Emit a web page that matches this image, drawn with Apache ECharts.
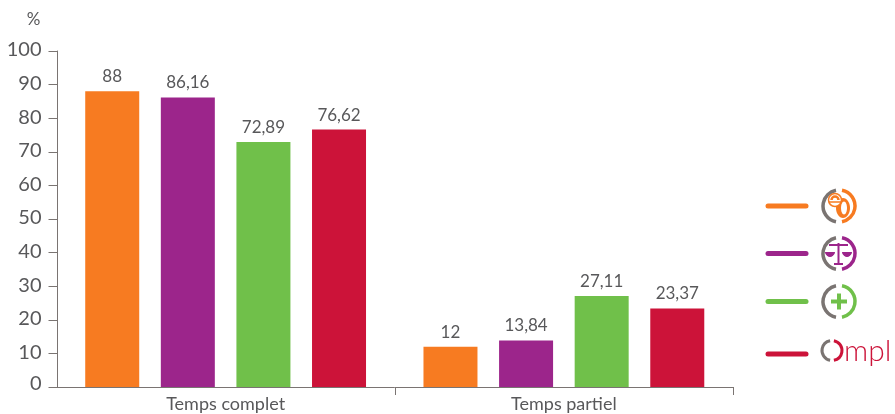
<!DOCTYPE html>
<html>
<head>
<meta charset="utf-8">
<title>Temps complet / Temps partiel</title>
<script src="https://cdn.jsdelivr.net/npm/echarts@6/dist/echarts.min.js"></script>
<style>
html, body { margin: 0; padding: 0; background: #fff; }
#chart { width: 895px; height: 414px; }
</style>
</head>
<body>
<div id="chart"></div>
<script>
var categories = ['Temps complet', 'Temps partiel'];
var yTicks = [0, 100, 10];
var seriesNames = ['BTP', 'Juridique', 'Plus', 'Ompl'];
var seriesColors = ['#f77b21', '#9c258b', '#70c04a', '#cc1339'];
var btp = [88, 12];
var juridique = [86.16, 13.84];
var plus = [72.89, 27.11];
var ompl = [76.62, 23.37];

var grey = '#7a7472';
var textColor = '#58585a';
var fontName = 'Lato';

function frNumber(v) {
    return String(v).replace('.', ',');
}

function makeSeries(name, values, color) {
    return {
        name: name,
        type: 'bar',
        data: values,
        barWidth: 54,
        barGap: '40%',
        itemStyle: { color: color },
        label: {
            show: true,
            position: 'top',
            distance: 6,
            color: textColor,
            fontFamily: fontName,
            fontSize: 17,
            formatter: function (p) { return frNumber(p.value); }
        }
    };
}

// legende dessinee a la main : trait + anneau gris/couleur
function legendRow(y, color) {
    return [
        {
            type: 'line',
            shape: { x1: 768, y1: y, x2: 806, y2: y },
            style: { stroke: color, lineWidth: 5, lineCap: 'round' }
        },
        {
            type: 'arc',
            shape: { cx: 839, cy: y, r: 16, startAngle: Math.PI * 0.56, endAngle: Math.PI * 1.44 },
            style: { stroke: grey, lineWidth: 3.5, fill: null }
        },
        {
            type: 'arc',
            shape: { cx: 839, cy: y, r: 16, startAngle: -Math.PI * 0.44, endAngle: Math.PI * 0.44 },
            style: { stroke: color, lineWidth: 3.5, fill: null }
        }
    ];
}

var orange = seriesColors[0], purple = seriesColors[1], green = seriesColors[2], red = seriesColors[3];

var icons = [].concat(
    legendRow(206, orange),
    legendRow(253.5, purple),
    legendRow(301.5, green),
    [
        // roue + casque
        { type: 'ellipse', shape: { cx: 843, cy: 208, rx: 7, ry: 10 }, style: { fill: orange } },
        { type: 'ellipse', shape: { cx: 844, cy: 208, rx: 3, ry: 6.5 }, style: { fill: '#fff' } },
        { type: 'circle', shape: { cx: 835, cy: 200, r: 6.5 }, style: { stroke: orange, lineWidth: 1.5, fill: '#fff' } },
        { type: 'arc', shape: { cx: 835, cy: 200, r: 3.5, startAngle: Math.PI, endAngle: Math.PI * 2 }, style: { stroke: orange, lineWidth: 2.5, fill: null } },
        { type: 'line', shape: { x1: 829, y1: 202, x2: 841, y2: 202 }, style: { stroke: orange, lineWidth: 1.5 } },
        // balance
        { type: 'line', shape: { x1: 829, y1: 245, x2: 848, y2: 245 }, style: { stroke: purple, lineWidth: 2 } },
        { type: 'line', shape: { x1: 838.5, y1: 243, x2: 838.5, y2: 264 }, style: { stroke: purple, lineWidth: 2 } },
        { type: 'line', shape: { x1: 834, y1: 264, x2: 843, y2: 264 }, style: { stroke: purple, lineWidth: 2 } },
        { type: 'arc', shape: { cx: 830, cy: 252, r: 4.5, startAngle: 0, endAngle: Math.PI }, style: { fill: purple, stroke: purple, lineWidth: 1 } },
        { type: 'arc', shape: { cx: 847, cy: 252, r: 4.5, startAngle: 0, endAngle: Math.PI }, style: { fill: purple, stroke: purple, lineWidth: 1 } },
        // plus
        { type: 'line', shape: { x1: 831, y1: 301.5, x2: 847, y2: 301.5 }, style: { stroke: green, lineWidth: 4 } },
        { type: 'line', shape: { x1: 839, y1: 293.5, x2: 839, y2: 309.5 }, style: { stroke: green, lineWidth: 4 } },
        // Ompl
        { type: 'arc', shape: { cx: 832, cy: 350.5, r: 10, startAngle: Math.PI * 0.56, endAngle: Math.PI * 1.44 }, style: { stroke: grey, lineWidth: 3, fill: null } },
        { type: 'arc', shape: { cx: 832, cy: 350.5, r: 10, startAngle: -Math.PI * 0.44, endAngle: Math.PI * 0.44 }, style: { stroke: red, lineWidth: 3, fill: null } },
        { type: 'text', x: 844, y: 336, style: { text: 'mpl', fill: red, fontFamily: fontName, fontWeight: 300, fontSize: 30 } },
        {
            type: 'line',
            shape: { x1: 768, y1: 354, x2: 806, y2: 354 },
            style: { stroke: red, lineWidth: 5, lineCap: 'round' }
        },
        // pas de graduation sous l'origine
        { type: 'rect', z: 100, shape: { x: 54, y: 388, width: 6, height: 9 }, style: { fill: '#fff' } }
    ]
);

var chart = echarts.init(document.getElementById('chart'));
chart.setOption({
    animation: false,
    grid: { left: 56.5, right: 162, top: 51, bottom: 27 },
    xAxis: {
        type: 'category',
        data: categories,
        axisLine: { lineStyle: { color: grey, width: 1 } },
        axisTick: { show: true, length: 8, lineStyle: { color: grey } },
        axisLabel: { color: textColor, fontFamily: fontName, fontSize: 18, margin: 8 }
    },
    yAxis: {
        type: 'value',
        min: yTicks[0],
        max: yTicks[1],
        interval: yTicks[2],
        offset: -1,
        name: '%',
        nameLocation: 'end',
        nameGap: 23,
        nameTextStyle: { color: textColor, fontFamily: fontName, fontSize: 17, padding: [0, 48, 0, 0] },
        splitLine: { show: false },
        axisLine: { show: true, lineStyle: { color: grey, width: 1 } },
        axisTick: { show: true, length: 9, lineStyle: { color: grey } },
        axisLabel: {
            margin: 16,
            formatter: function (v) {
                return (v === 0 ? '{zero|' : '{tick|') + v + '}';
            },
            rich: {
                tick: { color: textColor, fontFamily: fontName, fontSize: 20, padding: [0, 0, 2, 0] },
                zero: { color: textColor, fontFamily: fontName, fontSize: 20, padding: [0, 0, 6, 0] }
            }
        }
    },
    series: [
        makeSeries(seriesNames[0], btp, seriesColors[0]),
        makeSeries(seriesNames[1], juridique, seriesColors[1]),
        makeSeries(seriesNames[2], plus, seriesColors[2]),
        makeSeries(seriesNames[3], ompl, seriesColors[3])
    ],
    graphic: icons
});
</script>
</body>
</html>
